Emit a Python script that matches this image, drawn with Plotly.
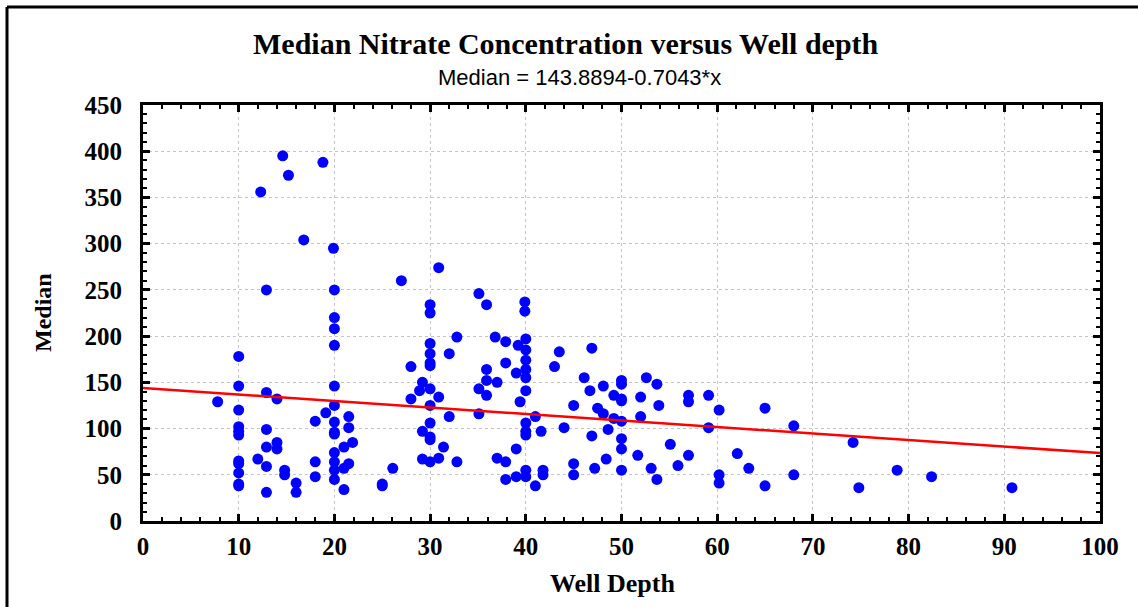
import plotly.graph_objects as go

# ---- data ----
well_depth = [
    14.6, 18.8, 15.2, 12.3, 16.8, 19.9, 12.9, 20, 20, 20, 20, 10, 10, 20, 12.9, 14, 7.8, 10, 20, 19.1,
    18, 20, 20, 20, 21.5, 21.5, 10, 10, 10, 12.9, 14, 14, 12.9, 21, 21.9, 20, 10, 10, 12, 18,
    20, 12.9, 10, 14.8, 14.8, 20, 21.5, 21, 10, 10, 18, 20, 16, 16, 12.9, 21, 25, 25, 26.1,
    30.9, 27, 30, 30, 35.1, 35.9, 39.9, 39.9, 32.8, 30, 36.8, 37.9, 39.2, 40, 40, 43.5, 32, 30, 30, 30,
    28, 40, 37.9, 35.9, 40, 43, 39, 40, 35.9, 37, 29.2, 28.9, 30, 35.1, 30.9, 28, 35.9, 40, 39.4, 30,
    32, 35.1, 41, 44, 30, 40, 29.2, 30, 30, 40, 40, 41.6, 31.4, 39, 29.2, 30, 30.9, 32.8, 37, 37.9,
    40, 41.8, 41.8, 39, 37.9, 40, 41,
    46.9, 46.1, 46.7, 48.1, 50, 50, 52.6, 53.7, 49.2, 50, 50, 52, 53.9, 45, 47.5, 48.1, 49.2, 50, 52, 57,
    57, 59.1, 60.2, 59.1, 65, 68, 48.6, 46.9, 50, 50, 55.1, 51.7, 57, 62.1, 45, 48.4, 47.2, 50, 53.1, 55.9,
    63.3, 53.7, 60.2, 60.2, 65, 68, 45,
    74.2, 74.8, 78.8, 82.4, 90.8,
]
median_nitrate = [
    395, 388, 374, 356, 304, 295, 250, 250, 220, 208, 190, 178, 146, 146, 139, 132, 129, 120, 125, 117,
    108, 107, 96, 94, 113, 101, 102, 97, 93, 99, 85, 78, 80, 80, 85, 74, 65, 62, 67, 64,
    64, 59, 52, 55, 50, 55, 62, 57, 40, 38, 48, 45, 41, 31, 31, 34, 40, 38, 57,
    274, 260, 234, 225, 246, 234, 237, 227, 199, 192, 199, 194, 190, 197, 185, 183, 181, 181, 171, 168,
    167, 174, 171, 164, 164, 167, 160, 155, 152, 150, 150, 141, 143, 143, 134, 132, 136, 141, 129, 125,
    113, 116, 113, 101, 106, 106, 97, 91, 88, 97, 93, 97, 80, 78, 67, 64, 68, 64, 68, 64,
    55, 55, 50, 48, 45, 48, 38,
    187, 155, 141, 146, 152, 148, 155, 148, 136, 132, 130, 134, 125, 125, 122, 116, 111, 108, 113, 136,
    129, 136, 120, 101, 122, 103, 99, 92, 89, 78, 83, 71, 71, 73, 62, 67, 57, 55, 57, 60,
    57, 45, 50, 41, 38, 50, 50,
    85, 36, 55, 48, 36,
]
fit_intercept = 143.8894
fit_slope = -0.7043
fit_x = [0, 100]
fit_y = [fit_intercept + fit_slope * v for v in fit_x]

title_text = "Median Nitrate Concentration versus Well depth"
subtitle_text = "Median = 143.8894-0.7043*x"
x_label = "Well Depth"
y_label = "Median"

SERIF = "Liberation Serif, Times New Roman, serif"
SANS = "Liberation Sans, Arial, sans-serif"

fig = go.Figure()
fig.add_trace(go.Scatter(
    x=well_depth, y=median_nitrate, mode="markers",
    marker=dict(color="#0000ff", size=11, line=dict(width=0)),
    showlegend=False, cliponaxis=True,
))
fig.add_trace(go.Scatter(
    x=fit_x, y=fit_y, mode="lines",
    line=dict(color="#ff0000", width=2.5),
    showlegend=False,
))

axis_common = dict(
    showline=True, linecolor="black", linewidth=3, mirror="allticks",
    ticks="inside", ticklen=7, tickwidth=2.5, tickcolor="black",
    showgrid=True, gridcolor="#c4c4c4", gridwidth=1, griddash="3px,3px",
    zeroline=False,
    tickfont=dict(family=SERIF, size=25, color="black", weight="bold"),
)

fig.update_xaxes(
    range=[0, 100], dtick=10, tick0=0,
    minor=dict(dtick=2, ticks="inside", ticklen=4, tickwidth=2, tickcolor="black", showgrid=False),
    ticklabelstandoff=1,
    **axis_common,
)
fig.update_yaxes(
    range=[0, 450], dtick=50, tick0=0,
    minor=dict(dtick=10, ticks="inside", ticklen=4, tickwidth=2, tickcolor="black", showgrid=False),
    ticklabelstandoff=13,
    **axis_common,
)

L, R, T, B = 143, 38, 105, 86
W, H = 1138, 607
pw = W - L - R
ph = H - T - B

def px(xp):
    return (xp - L) / pw

def py(yp):
    return (H - B - yp) / ph

annotations = [
    dict(text=title_text, x=px(566), y=py(44), xref="paper", yref="paper",
         showarrow=False, xanchor="center", yanchor="middle",
         font=dict(family=SERIF, size=30, color="black", weight="bold")),
    dict(text=subtitle_text, x=px(579), y=py(78), xref="paper", yref="paper",
         showarrow=False, xanchor="center", yanchor="middle",
         font=dict(family=SANS, size=22, color="black")),
    dict(text=x_label, x=px(612), y=py(583), xref="paper", yref="paper",
         showarrow=False, xanchor="center", yanchor="middle",
         font=dict(family=SERIF, size=26, color="black", weight="bold")),
    dict(text=y_label, x=px(43), y=py(313), xref="paper", yref="paper",
         showarrow=False, xanchor="center", yanchor="middle", textangle=-90,
         font=dict(family=SERIF, size=24, color="black", weight="bold")),
]

shapes = [
    dict(type="line", xref="paper", yref="paper", x0=px(7), x1=px(7), y0=py(7), y1=py(H + 5),
         line=dict(color="black", width=3)),
    dict(type="line", xref="paper", yref="paper", x0=px(7), x1=px(W + 5), y0=py(7), y1=py(7),
         line=dict(color="black", width=3)),
]

fig.update_layout(
    width=W, height=H,
    margin=dict(l=L, r=R, t=T, b=B),
    paper_bgcolor="white", plot_bgcolor="white",
    annotations=annotations, shapes=shapes,
)

fig.write_html("out.html")
